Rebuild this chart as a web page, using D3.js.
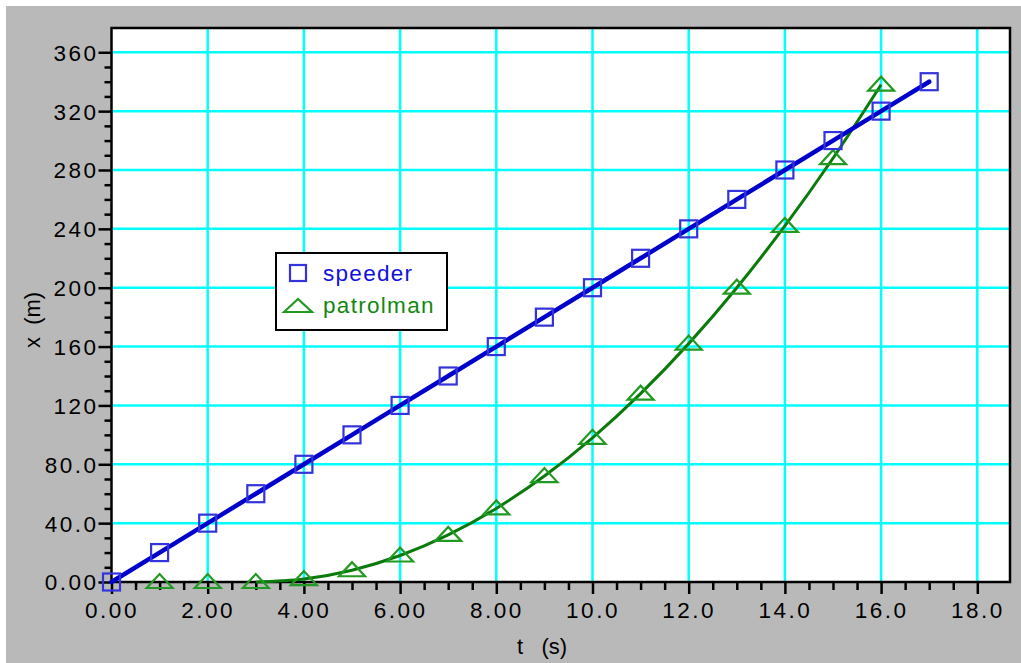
<!DOCTYPE html>
<html>
<head>
<meta charset="utf-8">
<script src="https://cdn.jsdelivr.net/npm/d3@7"></script>
<style>
  body { margin: 0; background: #fff; }
  svg { display: block; font-family: "Liberation Sans", Arial, sans-serif; }
</style>
</head>
<body>
<svg id="chart" width="1021" height="663"></svg>
<script>
// data
const times = [0, 1, 2, 3, 4, 5, 6, 7, 8, 9, 10, 11, 12, 13, 14, 15, 16, 17];
const speeder = [0, 20, 40, 60, 80, 100, 120, 140, 160, 180, 200, 220, 240, 260, 280, 300, 320, 340];
const patrolTimes = [1, 2, 3, 4, 5, 6, 7, 8, 9, 10, 11, 12, 13, 14, 15, 16];
const patrolman = [0, 0, 0, 2, 8, 18, 32, 50, 72, 98, 128, 162, 200, 242, 288, 338];
const xTicks = [0, 2, 4, 6, 8, 10, 12, 14, 16, 18];
const xTickLabels = ['0.00', '2.00', '4.00', '6.00', '8.00', '10.0', '12.0', '14.0', '16.0', '18.0'];
const yTicks = [0, 40, 80, 120, 160, 200, 240, 280, 320, 360];
const yTickLabels = ['0.00', '40.0', '80.0', '120', '160', '200', '240', '280', '320', '360'];

const svg = d3.select('#chart');

// grey page with thin white strip on top/left
svg.append('rect').attr('x', 6).attr('y', 6).attr('width', 1015).attr('height', 657).attr('fill', '#b9b9b9');

const pl = 111.5, pr = 1010, pt = 28, pb = 582;
const x = d3.scaleLinear().domain([0, 18.68]).range([pl, pr]);
const y = d3.scaleLinear().domain([0, 376.5]).range([pb, pt]);

// plot area
svg.append('rect')
  .attr('x', pl).attr('y', pt)
  .attr('width', pr - pl).attr('height', pb - pt)
  .attr('fill', '#fff');

// grid
const grid = svg.append('g').attr('stroke', '#00ffff').attr('stroke-width', 2.5);
xTicks.slice(1).forEach(t => {
  grid.append('line').attr('x1', x(t)).attr('x2', x(t)).attr('y1', pt).attr('y2', pb);
});
yTicks.slice(1).forEach(t => {
  grid.append('line').attr('x1', pl).attr('x2', pr).attr('y1', y(t)).attr('y2', y(t));
});

// frame
svg.append('rect')
  .attr('x', pl).attr('y', pt)
  .attr('width', pr - pl).attr('height', pb - pt)
  .attr('fill', 'none').attr('stroke', '#000').attr('stroke-width', 2.5);

// axes with minor ticks
const xAxis = d3.axisBottom(x)
  .tickValues(d3.range(0, 18.01, 0.5))
  .tickSize(8)
  .tickFormat(d => {
    const i = xTicks.indexOf(d);
    return i >= 0 ? xTickLabels[i] : '';
  });
const gx = svg.append('g').attr('transform', `translate(0,${pb})`).call(xAxis);
gx.select('.domain').remove();
gx.selectAll('.tick line')
  .attr('stroke', '#000').attr('stroke-width', 2.5)
  .attr('y2', d => xTicks.includes(d) ? 12 : 8);
gx.selectAll('.tick text')
  .attr('y', 20).attr('dy', '0.71em')
  .attr('font-size', 22.5).attr('letter-spacing', 2.5).attr('fill', '#000')
  .attr('font-family', '"Liberation Sans", Arial, sans-serif');

const yAxis = d3.axisLeft(y)
  .tickValues(d3.range(0, 361, 10))
  .tickSize(7)
  .tickFormat(d => {
    const i = yTicks.indexOf(d);
    return i >= 0 ? yTickLabels[i] : '';
  });
const gy = svg.append('g').attr('transform', `translate(${pl},0)`).call(yAxis);
gy.select('.domain').remove();
gy.selectAll('.tick line')
  .attr('stroke', '#000').attr('stroke-width', 2.5)
  .attr('x2', d => yTicks.includes(d) ? -13 : -7);
gy.selectAll('.tick text')
  .attr('x', -13).attr('dy', '0.35em')
  .attr('font-size', 22.5).attr('letter-spacing', 2.5).attr('fill', '#000')
  .attr('font-family', '"Liberation Sans", Arial, sans-serif');

// axis titles
svg.append('text')
  .attr('transform', `translate(40,320) rotate(-90)`)
  .attr('text-anchor', 'middle')
  .attr('font-size', 22).attr('fill', '#000')
  .attr('xml:space', 'preserve')
  .text('x  (m)');
svg.append('text')
  .attr('x', 542).attr('y', 654)
  .attr('text-anchor', 'middle')
  .attr('font-size', 22).attr('fill', '#000')
  .attr('xml:space', 'preserve')
  .text('t   (s)');

// lines
const line = d3.line().x(d => x(d[0])).y(d => y(d[1]));
const patrolLine = d3.line().curve(d3.curveMonotoneX).x(d => x(d[0])).y(d => y(d[1]));

svg.append('path')
  .datum(patrolTimes.map((t, i) => [t, patrolman[i]]).filter(d => d[0] >= 3))
  .attr('d', patrolLine)
  .attr('fill', 'none').attr('stroke', '#0a7a0a').attr('stroke-width', 3);

svg.append('path')
  .datum(times.map((t, i) => [t, speeder[i]]))
  .attr('d', line)
  .attr('fill', 'none').attr('stroke', '#0000cc').attr('stroke-width', 4.5)
  .attr('stroke-linecap', 'round');

// markers
svg.append('g').selectAll('path')
  .data(patrolTimes.map((t, i) => [t, patrolman[i]]))
  .join('path')
  .attr('d', 'M-13,7 L0,-7 L13,7 Z')
  .attr('transform', d => `translate(${x(d[0])},${y(d[1]) - 1})`)
  .attr('fill', 'none').attr('stroke', '#229922').attr('stroke-width', 2.2);

svg.append('g').selectAll('rect')
  .data(times.map((t, i) => [t, speeder[i]]))
  .join('rect')
  .attr('x', d => x(d[0]) - 8.5).attr('y', d => y(d[1]) - 8.5)
  .attr('width', 17).attr('height', 17)
  .attr('fill', 'none').attr('stroke', '#3333dd').attr('stroke-width', 2.2);

// legend
const lg = svg.append('g');
lg.append('rect')
  .attr('x', 276).attr('y', 253).attr('width', 171).attr('height', 77)
  .attr('fill', '#fff').attr('stroke', '#000').attr('stroke-width', 2);
lg.append('rect')
  .attr('x', 290).attr('y', 265).attr('width', 16).attr('height', 16)
  .attr('fill', 'none').attr('stroke', '#3333dd').attr('stroke-width', 2.2);
lg.append('path')
  .attr('d', 'M-14,7 L0,-6 L14,7 Z')
  .attr('transform', 'translate(298,305)')
  .attr('fill', 'none').attr('stroke', '#229922').attr('stroke-width', 2.2);
lg.append('text')
  .attr('x', 323).attr('y', 281)
  .attr('font-size', 22.5).attr('letter-spacing', 1.3).attr('fill', '#1010dd')
  .text('speeder');
lg.append('text')
  .attr('x', 323).attr('y', 313)
  .attr('font-size', 22.5).attr('letter-spacing', 1.3).attr('fill', '#118811')
  .text('patrolman');
</script>
</body>
</html>
